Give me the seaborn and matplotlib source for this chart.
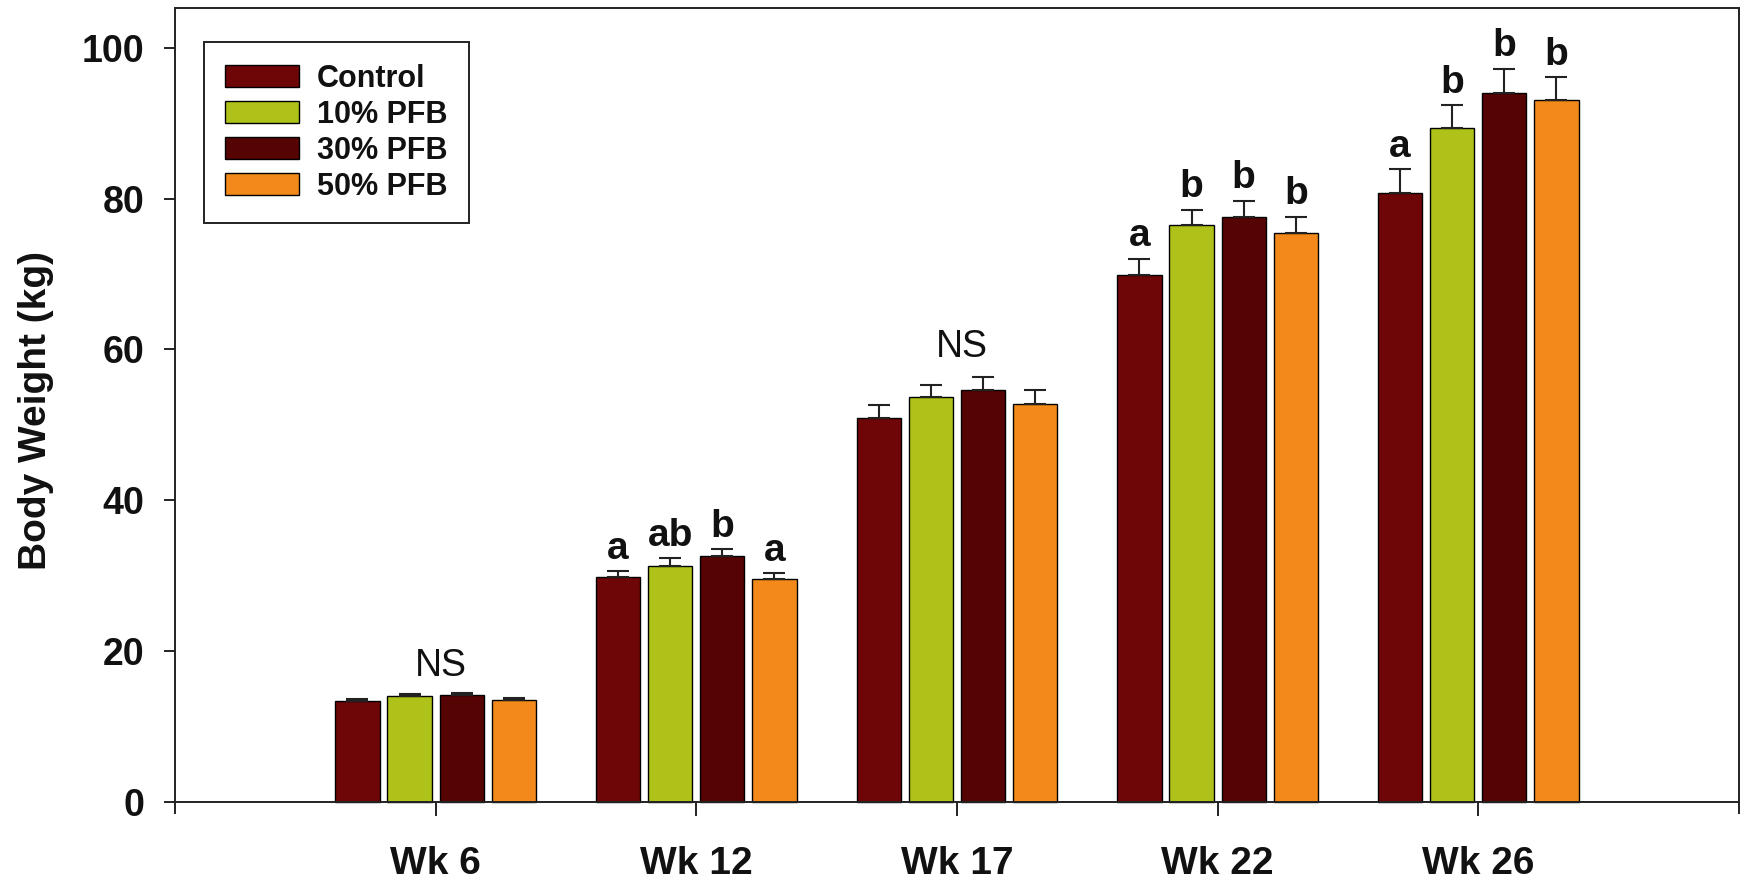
import numpy as np
import pandas as pd
import matplotlib
matplotlib.use("Agg")
import matplotlib.pyplot as plt
import seaborn as sns

# Body weight by week and feeding group (mean, SEM) with significance letters
weeks = ["Wk 6", "Wk 12", "Wk 17", "Wk 22", "Wk 26"]
groups = ["Control", "10% PFB", "30% PFB", "50% PFB"]

control_mean = [13.4, 29.8, 50.9, 69.9, 80.8]
pfb10_mean = [14.0, 31.3, 53.7, 76.5, 89.4]
pfb30_mean = [14.2, 32.6, 54.6, 77.6, 94.0]
pfb50_mean = [13.5, 29.6, 52.8, 75.5, 93.1]

control_sem = [0.3, 0.8, 1.7, 2.1, 3.1]
pfb10_sem = [0.3, 1.0, 1.6, 2.0, 3.0]
pfb30_sem = [0.3, 0.9, 1.8, 2.1, 3.2]
pfb50_sem = [0.3, 0.75, 1.8, 2.1, 3.0]

control_letters = ["", "a", "", "a", "a"]
pfb10_letters = ["", "ab", "", "b", "b"]
pfb30_letters = ["", "b", "", "b", "b"]
pfb50_letters = ["", "a", "", "b", "b"]
ns_weeks = ["Wk 6", "Wk 17"]

colors = ["#6E0506", "#AEC21A", "#560304", "#F2891A"]

means = [control_mean, pfb10_mean, pfb30_mean, pfb50_mean]
sems = [control_sem, pfb10_sem, pfb30_sem, pfb50_sem]
letters = [control_letters, pfb10_letters, pfb30_letters, pfb50_letters]

rows = []
for g, m, s in zip(groups, means, sems):
    for w, mv, sv in zip(weeks, m, s):
        rows.append({"week": w, "group": g, "weight": mv, "sem": sv})
df = pd.DataFrame(rows)

sns.set_theme(style="white")
plt.rcParams["font.family"] = ["Liberation Sans", "DejaVu Sans"]

fig = plt.figure(figsize=(17.44, 8.82), dpi=100)
ax = fig.add_axes([0.1003, 0.0782, 0.8968, 0.9122])

sns.barplot(data=df, x="week", y="weight", hue="group", order=weeks,
            hue_order=groups, palette=colors, saturation=1, width=0.8,
            gap=0.15, errorbar=None, edgecolor="black", linewidth=1.0, ax=ax)

# Upper error bars and letters, placed at each bar drawn by seaborn
for container, s, lets in zip(ax.containers, sems, letters):
    xs = np.array([p.get_x() + p.get_width() / 2 for p in container.patches])
    hs = np.array([p.get_height() for p in container.patches])
    ax.errorbar(xs, hs, yerr=[np.zeros_like(hs), np.array(s)], fmt="none",
                ecolor="#222222", elinewidth=1.5, capsize=8, capthick=1.5,
                zorder=3)
    for x, h, e, t in zip(xs, hs, s, lets):
        if t:
            ax.annotate(t, (x, h + e), xytext=(0, 9), textcoords="offset points",
                        ha="center", va="baseline", fontsize=28,
                        fontweight="bold", color="#111111")

for w, off in zip(ns_weeks, [12, 14]):
    i = weeks.index(w)
    top = max(m[i] + s[i] for m, s in zip(means, sems))
    ax.annotate("NS", (i + 0.02, top), xytext=(0, off), textcoords="offset points",
                ha="center", va="baseline", fontsize=27, color="#111111")

ax.set_xlim(-1, 5)
ax.set_ylim(-1.46, 105.2)
ax.set_yticks([0, 20, 40, 60, 80, 100])
ax.spines["bottom"].set_position(("data", 0))
for sp in ax.spines.values():
    sp.set_color("#222222")
    sp.set_linewidth(1.4)

ax.tick_params(axis="y", direction="out", length=8, width=1.3, pad=14,
               labelsize=27, colors="#111111", left=True)
ax.tick_params(axis="x", direction="out", length=10, width=1.3, pad=22,
               labelsize=28, colors="#111111", bottom=True)
for lab in ax.get_xticklabels() + ax.get_yticklabels():
    lab.set_fontweight("bold")

ax.set_xlabel("")
ax.set_ylabel("Body Weight (kg)", fontsize=28, fontweight="bold",
              color="#111111", labelpad=20)

leg = ax.legend(loc="upper left", bbox_to_anchor=(0.0185, 0.958), frameon=True,
                fancybox=False, edgecolor="#222222", framealpha=1,
                prop={"weight": "bold", "size": 22}, handlelength=2.4,
                handleheight=0.72, handletextpad=0.6, labelspacing=0.2,
                borderpad=0.7, borderaxespad=0)
leg.get_frame().set_linewidth(1.4)
for t in leg.get_texts():
    t.set_color("#111111")

fig.savefig("out.png", dpi=100)
